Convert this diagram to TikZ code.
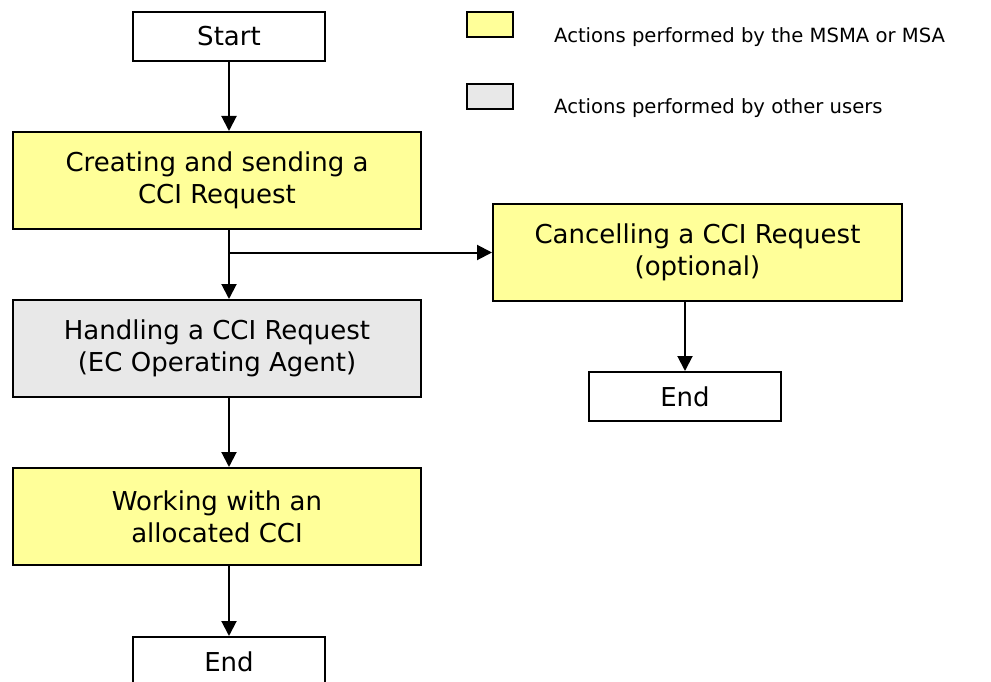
\documentclass[tikz,border=0pt]{standalone}
\usepackage{fontspec}
\setmainfont{DejaVu Sans}
\usetikzlibrary{arrows.meta}
\definecolor{actyellow}{HTML}{FFFF99}
\definecolor{actgray}{HTML}{E8E8E8}
\begin{document}
\begin{tikzpicture}[x=1pt,y=-1pt,
  box/.style={draw=black,line width=2pt,rectangle,inner sep=0pt,align=center,
    font=\fontsize{26}{32}\selectfont},
  wide/.style={box,minimum width=408pt,minimum height=97pt},
  term/.style={box,fill=white,minimum width=192pt,minimum height=49pt},
  legbox/.style={draw=black,line width=2pt,rectangle,inner sep=0pt,minimum width=46pt,minimum height=25pt},
  legtext/.style={anchor=west,inner sep=0pt,font=\fontsize{19.6}{23}\selectfont},
  flow/.style={line width=2pt,-{Triangle[length=15pt,width=15pt]}}
]
\useasboundingbox (0,0) rectangle (991,682);
\begin{scope}
\clip (0,0) rectangle (991,682);
\node[term] (start) at (229,36.5) {Start};
\node[wide,fill=actyellow] (create) at (217,180.5) {Creating and sending a\\CCI Request};
\node[wide,fill=actgray] (handle) at (217,348.5) {Handling a CCI Request\\(EC Operating Agent)};
\node[wide,fill=actyellow] (work) at (217,516.5) {Working with an\\allocated CCI};
\node[term] (end1) at (229,661.5) {End};
\node[box,fill=actyellow,minimum width=409pt,minimum height=97pt] (cancel) at (697.5,252.5) {Cancelling a CCI Request\\(optional)};
\node[term] (end2) at (685,396.5) {End};

\node[legbox,fill=actyellow] (legy) at (490,24.5) {};
\node[legbox,fill=actgray] (legg) at (490,96.5) {};
\node[legtext] (legyt) at (554,37) {Actions performed by the MSMA or MSA};
\node[legtext] (leggt) at (554,108.5) {Actions performed by other users};

\coordinate (branch) at (229,252.5);
\draw[flow] (start.south) -- (start.south |- create.north);
\draw[flow] (start.south |- create.south) -- (start.south |- handle.north);
\draw[flow] (branch) -- (cancel.west);
\draw[flow] (start.south |- handle.south) -- (start.south |- work.north);
\draw[flow] (start.south |- work.south) -- (end1.north);
\draw[flow] (end2.north |- cancel.south) -- (end2.north);
\end{scope}
\end{tikzpicture}
\end{document}
